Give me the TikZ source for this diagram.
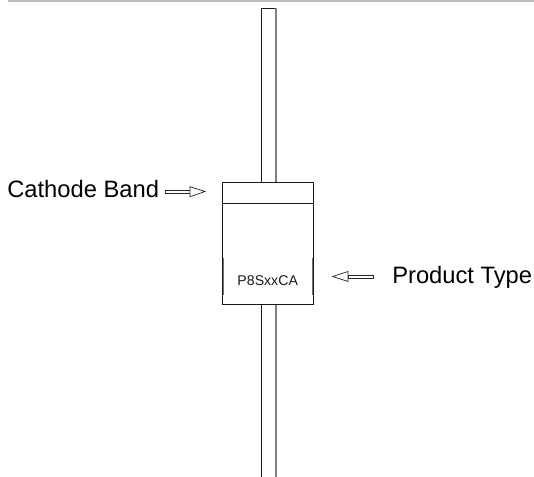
\documentclass[tikz,border=0pt]{standalone}
\usetikzlibrary{calc}
\usepackage{fontspec}
\setmainfont{Liberation Sans}
\begin{document}
\begin{tikzpicture}[x=0.75pt,y=-0.75pt,
  blackline/.style={draw=black!90,line width=0.85pt},
  greyline/.style={draw=black!50,line width=1.5pt},
  sideline/.style={draw=black!55,line width=1.1pt},
  rulebar/.style={draw=black!25,line width=1.5pt},
  shaft/.style={draw=black!85,line width=0.4pt,fill=white},
  head/.style={draw=black!85,line width=0.55pt,fill=white,line join=miter},
  labeltext/.style={inner sep=0pt,font=\fontsize{17.8pt}{20pt}\selectfont,text=black,anchor=base west},
  parttext/.style={inner sep=0pt,font=\fontsize{10.6pt}{12pt}\selectfont,text=black!90,anchor=base}]
\useasboundingbox (0,0) rectangle (534,477);
\draw[rulebar] (7.5,1) -- (534,1);
% leads
\draw[blackline] (261.5,477) -- (261.5,305);
\draw[greyline] (275.7,477) -- (275.7,305);
\draw[blackline] (261.5,182) -- (261.5,8.3) -- (276.4,8.3);
\draw[greyline] (275.7,8.3) -- (275.7,182);
% body
\node[blackline,line width=1pt,minimum width=91.5*0.75pt,minimum height=122.5*0.75pt,inner sep=0pt,outer sep=0pt] (body) at (268,243.5) {};
\draw[blackline,line width=1.1pt] (222.3,203.4) -- (313.7,203.4);
\draw[sideline] (223.6,258) -- (223.6,295);
\draw[sideline] (312.5,258) -- (312.5,295);
\node[parttext] (part) at (267.7,285.5) {P8SxxCA};
% labels
\node[labeltext] (cath) at (7,197.5) {Cathode Band};
\node[labeltext] (prod) at (392,283) {Product Type};
% arrows
\coordinate (cathbase) at (190,191.7);
\coordinate (cathtip) at (205,191.5);
\coordinate (prodbase) at (348,276.5);
\coordinate (prodtip) at (332.7,276.5);
\coordinate (cathstart) at (165,191.7);
\coordinate (prodstart) at (373,276.5);
\filldraw[shaft] ($(cathstart)+(0,-1.7)$) rectangle ($(cathbase)+(0,1.7)$);
\filldraw[head] (cathtip) -- ($(cathbase)+(0,-5)$) -- ($(cathbase)+(0,5)$) -- cycle;
\filldraw[shaft] ($(prodstart)+(0,-1.7)$) rectangle ($(prodbase)+(0,1.7)$);
\filldraw[head] (prodtip) -- ($(prodbase)+(0,-5)$) -- ($(prodbase)+(0,5)$) -- cycle;
\end{tikzpicture}
\end{document}
